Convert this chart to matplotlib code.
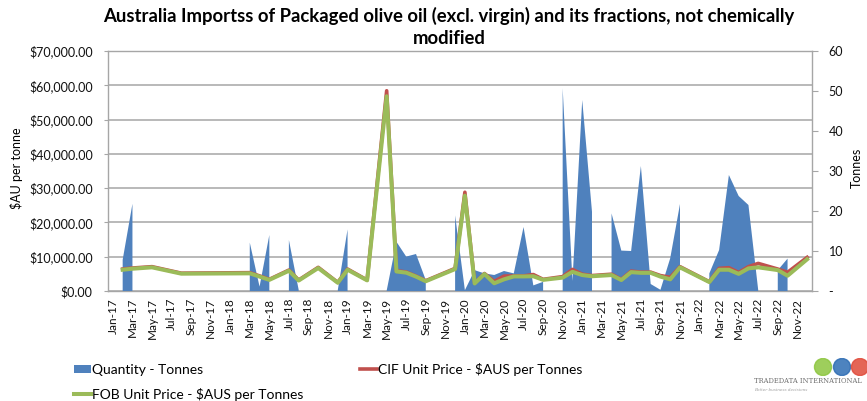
import numpy as np
import matplotlib
matplotlib.use("Agg")
import matplotlib.pyplot as plt
from matplotlib.patches import Patch, Circle
from matplotlib.lines import Line2D
from matplotlib.ticker import FuncFormatter, MultipleLocator

plt.rcParams['font.family'] = ['Lato', 'DejaVu Sans']

nan = np.nan
years = ["17", "18", "19", "20", "21", "22"]
mon = ["Jan", "Feb", "Mar", "Apr", "May", "Jun", "Jul", "Aug", "Sep", "Oct", "Nov", "Dec"]
months = [f"{m}-{y}" for y in years for m in mon]

# Quantity (tonnes); nan = no imports that month
quantity = [
    nan, 7.8, 21.8, nan, 0.05, nan, nan, 0.05, nan, nan, nan, nan,          # 2017
    nan, nan, 12.1, 1.1, 14.0, nan, 12.75, 0.3, nan, 0.05, nan, 0.2,       # 2018
    15.4, nan, 0.05, nan, 0.1, 12.3, 8.6, 9.25, 2.75, nan, nan, 18.9,      # 2019
    0.2, 5.2, 4.4, 4.0, 5.0, 4.4, 16.0, 1.4, 2.3, nan, 50.7, 2.5,          # 2020
    47.75, 19.8, nan, 19.4, 10.1, 10.0, 31.25, 1.75, 0.3, 8.2, 21.75, nan, # 2021
    nan, 4.4, 10.25, 29.0, 23.75, 21.5, 0.2, nan, 5.2, 8.1, nan, 0.05,     # 2022
]
# CIF unit price ($AUS per tonne)
cif = [
    nan, 6400, 6700, nan, 7100, nan, nan, 5200, nan, nan, nan, nan,
    nan, nan, 5350, 4400, 3400, nan, 6100, 3200, nan, 6900, nan, 2500,
    6400, nan, 3200, nan, 58400, 5900, 5550, 4350, 3000, nan, nan, 6600,
    28800, 2300, 5100, 2800, 4350, 4400, 4400, 4800, 3400, nan, 4200, 6300,
    4900, 4500, nan, 4900, 3400, 5800, 5500, 5500, 4500, 4000, 7100, nan,
    nan, 2700, 6600, 6800, 5400, 7100, 8050, nan, 6400, 5450, nan, 9800,
]
# FOB unit price ($AUS per tonne)
fob = [
    nan, 6200, 6500, nan, 6900, nan, nan, 5050, nan, nan, nan, nan,
    nan, nan, 5150, 4200, 3250, nan, 5900, 3050, nan, 6700, nan, 2400,
    6200, nan, 3100, nan, 56800, 5700, 5350, 4200, 2850, nan, nan, 6400,
    27800, 2200, 4950, 2250, 3400, 4250, 4250, 4300, 3250, nan, 3900, 5600,
    4650, 4300, nan, 4650, 3200, 5500, 5300, 5300, 4200, 3400, 6900, nan,
    nan, 2600, 6200, 6200, 5000, 6600, 6900, nan, 6100, 4450, nan, 9250,
]

title = "Australia Importss of Packaged olive oil (excl. virgin) and its fractions, not chemically\nmodified"

blue = "#4F81BD"
red = "#C0504D"
green = "#9BBB59"
grid_c = "#A6A6A6"

W, H = 867, 401
fig = plt.figure(figsize=(W / 100, H / 100), dpi=100)
L, R, B, T = 108, 812, 291, 51
ax = fig.add_axes([L / W, 1 - B / H, (R - L) / W, (B - T) / H])

x = np.arange(len(months))
q = np.array(quantity, dtype=float)
c = np.array(cif, dtype=float)
f = np.array(fob, dtype=float)

# primary axis: $ scale with gridlines
ax.set_xlim(-0.5, len(months) - 0.5)
ax.set_ylim(0, 70000)
ax.yaxis.set_major_locator(MultipleLocator(10000))
ax.yaxis.set_major_formatter(FuncFormatter(lambda v, p: f"${v:,.2f}"))
ax.grid(axis='y', color=grid_c, linewidth=1.1)
ax.set_axisbelow(True)
for s in ['left', 'bottom', 'right', 'top']:
    ax.spines[s].set_color(grid_c)
    ax.spines[s].set_linewidth(1.0)
ax.tick_params(axis='y', labelsize=9, length=3, color=grid_c, pad=8, labelcolor="#111111")
ax.set_xticks(x[::2])
ax.set_xticklabels(months[::2], rotation=90, fontsize=8.5, color="#111111")
ax.tick_params(axis='x', length=0, pad=5)

# secondary axis: quantity area
ax2 = ax.twinx()
ax2.set_ylim(0, 60)
ax2.yaxis.set_major_locator(MultipleLocator(10))
ax2.yaxis.set_major_formatter(FuncFormatter(lambda v, p: "-" if v == 0 else f"{v:.0f}"))
ax2.tick_params(axis='y', labelsize=9, length=4, color=grid_c, pad=8, labelcolor="#111111")
for s in ax2.spines.values():
    s.set_visible(False)
ax2.fill_between(x, 0, q, color=blue, linewidth=0)

# lines axis on top, same $ scale
ax3 = ax.twinx()
ax3.set_ylim(ax.get_ylim())
ax3.set_yticks([])
for s in ax3.spines.values():
    s.set_visible(False)
mc = ~np.isnan(c)
mf = ~np.isnan(f)
ax3.plot(x[mc], c[mc], color=red, linewidth=2.6, solid_joinstyle='round')
ax3.plot(x[mf], f[mf], color=green, linewidth=2.9, solid_joinstyle='round')

# axis titles
fig.text(17 / W, 1 - 168 / H, "$AU per tonne", rotation=90, fontsize=9,
         ha='center', va='center')
fig.text(857 / W, 1 - 168 / H, "Tonnes", rotation=90, fontsize=9,
         ha='center', va='center')

fig.text(449 / W, 1 - 7 / H, title, ha='center', va='top', fontsize=13.3,
         fontweight='bold', linespacing=1.35)

handles = [Patch(facecolor=blue, edgecolor='none'),
           Line2D([], [], color=green, linewidth=2.9),
           Line2D([], [], color=red, linewidth=2.6)]
labels = ["Quantity - Tonnes", "FOB Unit Price - $AUS per Tonnes",
          "CIF Unit Price - $AUS per Tonnes"]
fig.legend(handles, labels, ncol=2, loc='upper left',
           bbox_to_anchor=(74 / W, 1 - 363 / H), frameon=False, fontsize=10,
           handlelength=1.2, handleheight=0.55, handletextpad=0.1,
           columnspacing=4.1, labelspacing=0.85, borderaxespad=0, borderpad=0)

# logo
fig.text(754 / W, 1 - 381 / H, "TRADEDATA INTERNATIONAL", fontsize=4.9,
         family='DejaVu Serif', color="#6E6E6E", va='center', ha='left')
fig.text(754 / W, 1 - 390 / H, "Better business decisions", fontsize=3,
         family='DejaVu Serif', style='italic', color="#9E9E9E", va='center', ha='left')
lax = fig.add_axes([812 / W, 1 - 376 / H, 55 / W, 18 / H])
lax.set_xlim(0, 55)
lax.set_ylim(0, 18)
lax.set_aspect('equal', adjustable='datalim')
lax.axis('off')
for cx, col in [(11, "#8DC63F"), (30, "#2E6DB4"), (48, "#E04B3A")]:
    lax.add_patch(Circle((cx, 9), 8.5, color=col, alpha=0.85))

fig.savefig("out.png", dpi=100)
